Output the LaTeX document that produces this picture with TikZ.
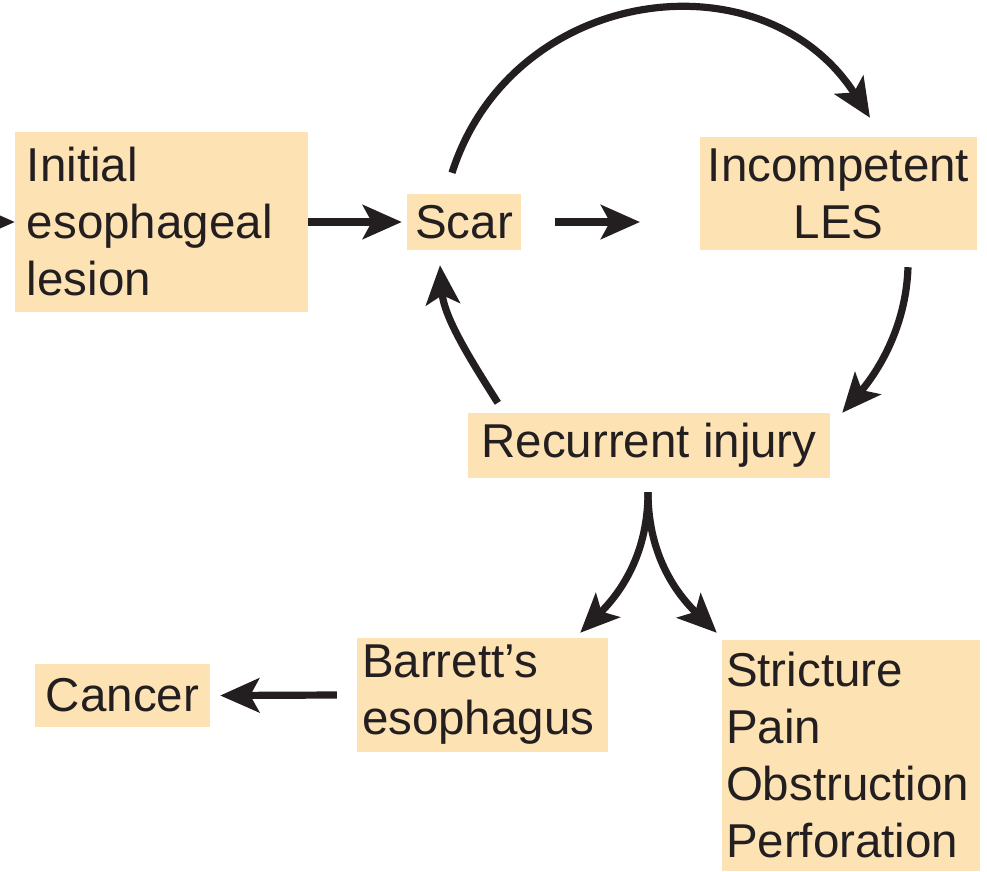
\documentclass[tikz,border=0pt]{standalone}
\usepackage{fontspec}
\setmainfont{Liberation Sans}
\usetikzlibrary{arrows.meta}
\definecolor{boxfill}{RGB}{253,226,180}
\definecolor{ink}{RGB}{35,31,32}
\begin{document}
\begin{tikzpicture}[x=1pt,y=-1pt,
  box/.style={fill=boxfill, inner sep=0pt, text=ink, font=\fontsize{47.5}{57}\selectfont},
  arr/.style={draw=ink, line width=7.2pt, -{Stealth[length=39pt,width=34pt,inset=9pt]}}]
\useasboundingbox (0,0) rectangle (987,871);
\clip (0,0) rectangle (987,871);

\node[box, minimum width=293pt, minimum height=180pt, text width=269pt, align=left] (init) at (161.5,222) {Initial\\esophageal\\lesion};
\node[box, minimum width=114pt, minimum height=56pt] (scar) at (464,222) {Scar};
\node[box, minimum width=277pt, minimum height=113pt, align=center] (les) at (838.5,193.5) {Incompetent\\LES};
\node[box, minimum width=362pt, minimum height=65pt] (rec) at (649,445.5) {Recurrent injury};
\node[box, minimum width=251pt, minimum height=114pt, text width=241pt, align=left] (barrett) at (482.5,695) {Barrett’s\\esophagus};
\node[box, minimum width=175pt, minimum height=63pt] (cancer) at (122.5,695.5) {Cancer};
\node[box, minimum width=258pt, minimum height=231pt, text width=250pt, align=left] (stric) at (851,755.5) {Stricture\\Pain\\Obstruction\\Perforation};

\coordinate (offl) at (-40,222);
\coordinate (gapend) at (640,222);

\draw[arr] (offl) -- (init.west);
\draw[arr] (init.east) -- ([shift={(-5,0)}]scar.west);
\draw[arr] ([shift={(34,0)}]scar.east) -- (gapend);
\draw[arr] ([shift={(-12,-21)}]scar.north) .. controls (512,-15) and (764,-48) .. ([shift={(31.5,-19)}]les.north);
\draw[arr] ([shift={(69.5,17)}]les.south) .. controls (906,330) and (875,375) .. ([shift={(12,0)}]rec.north east);
\draw[arr] ([shift={(30,-10)}]rec.north west) .. controls (472,362) and (444,318) .. ([shift={(-24,15)}]scar.south);
\draw[arr] ([shift={(-1,14)}]rec.south) .. controls (648,560) and (615,598) .. ([shift={(-28,-5)}]barrett.north east);
\draw[arr] ([shift={(-1,14)}]rec.south) .. controls (648,560) and (681,598) .. ([shift={(-5,-7)}]stric.north west);
\draw[arr] ([shift={(-20,0)}]barrett.west) -- ([shift={(10,0)}]cancer.east);
\end{tikzpicture}
\end{document}
